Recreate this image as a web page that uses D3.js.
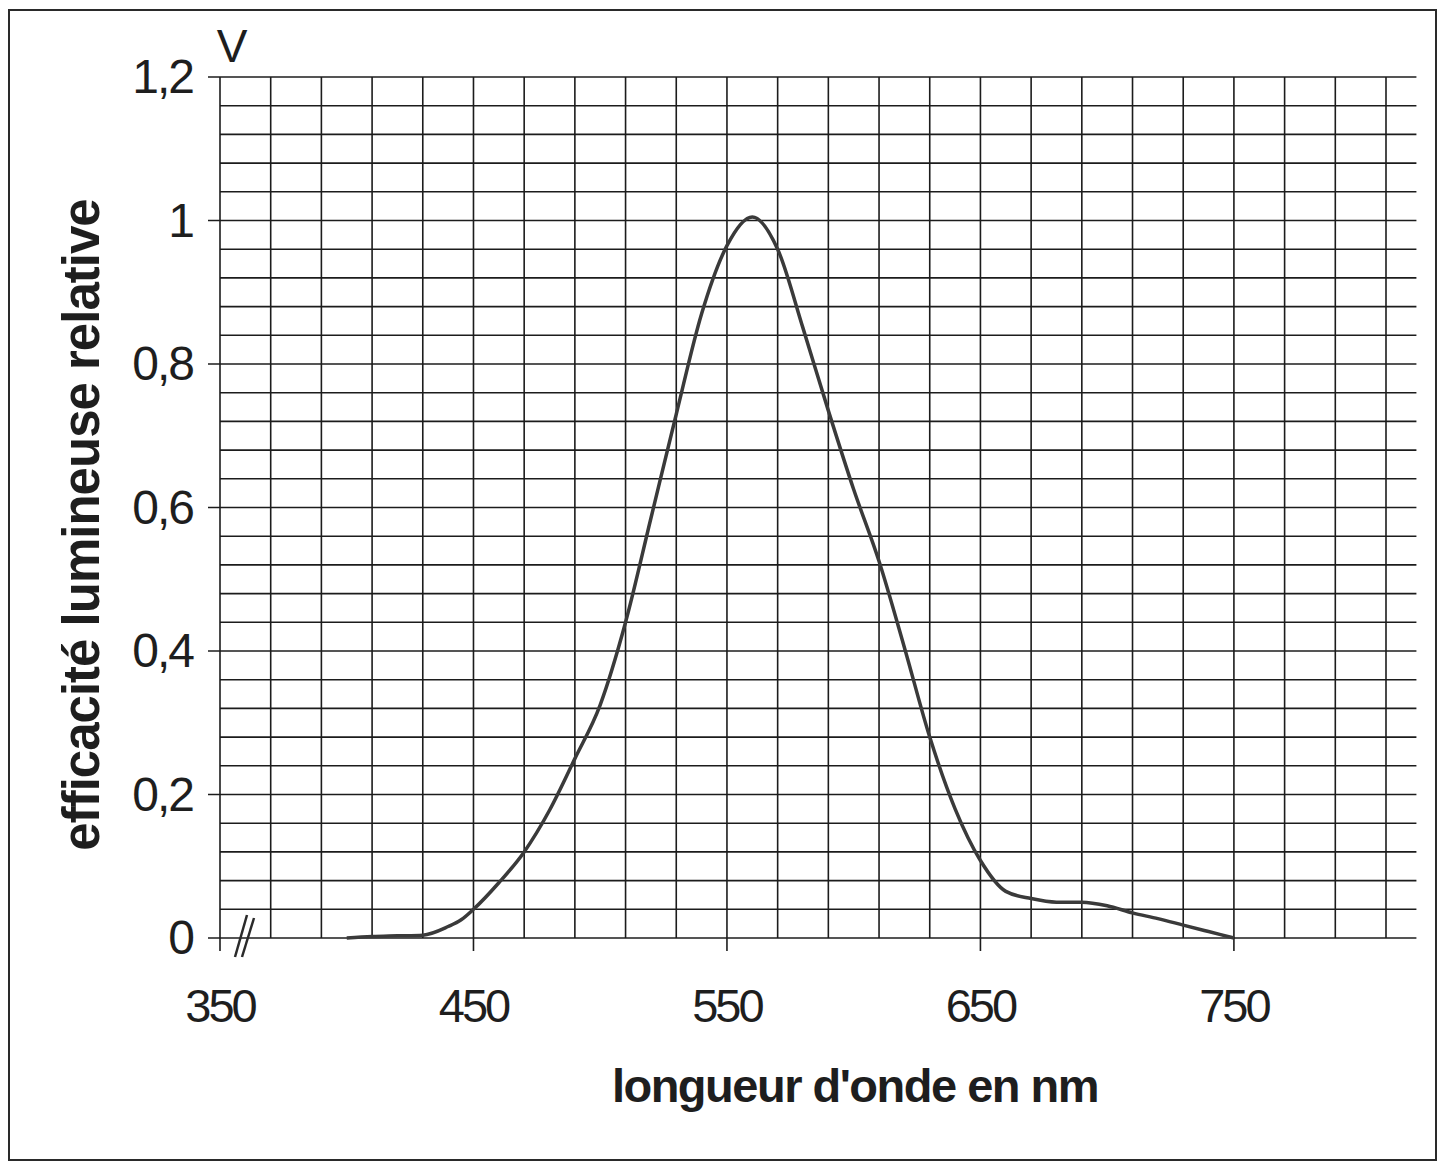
<!DOCTYPE html>
<html>
<head>
<meta charset="utf-8">
<script src="https://cdn.jsdelivr.net/npm/d3@7/dist/d3.min.js"></script>
<style>
body {margin:0; background:#fff;}
svg text {font-family: "Liberation Sans", Arial, sans-serif; fill:#1e1e1e;}
</style>
</head>
<body>
<svg></svg>
<script>

var screen = {width: 1450, height: 1163}

var longueurs = [400,410,420,430,440,445,450,460,470,480,490,500,510,520,530,540,550,560,570,580,590,600,610,620,630,640,650,660,670,680,690,700,710,720,730,740,750]
var efficacite = [0,0.002,0.003,0.004,0.016,0.025,0.04,0.077,0.12,0.178,0.25,0.325,0.44,0.585,0.73,0.87,0.965,1.005,0.96,0.85,0.735,0.625,0.525,0.405,0.28,0.18,0.108,0.065,0.055,0.05,0.05,0.045,0.035,0.027,0.018,0.009,0]

var xTicks = [350,450,550,650,750]
var yTicks = [0,0.2,0.4,0.6,0.8,1,1.2]
var yTickLabels = ["0","0,2","0,4","0,6","0,8","1","1,2"]

var setup = function ()
{
    var svg = d3.select("svg")
        .attr("width", screen.width)
        .attr("height", screen.height)

    var xScale = d3.scaleLinear()
        .domain([350, 810])
        .range([220, 1386])
    var yScale = d3.scaleLinear()
        .domain([0, 1.2])
        .range([938, 77])

    // cadre de la feuille
    svg.append("rect")
        .attr("x", 9).attr("y", 10)
        .attr("width", 1427).attr("height", 1150)
        .attr("fill", "none")
        .attr("stroke", "#2a2a2a")
        .attr("stroke-width", 2)

    var grid = svg.append("g").attr("id", "grid")
        .attr("stroke", "#1c1c1c")
        .attr("stroke-width", 1.6)

    // lignes horizontales tous les 0,04
    var hLines = d3.range(0, 31).map(function(i){return i*0.04})
    grid.selectAll(".h")
        .data(hLines)
        .enter()
        .append("line")
        .attr("x1", function(d, i){return (i % 5 == 0) ? xScale(350) - 12 : xScale(350)})
        .attr("x2", xScale(822))
        .attr("y1", function(d){return yScale(d)})
        .attr("y2", function(d){return yScale(d)})

    // lignes verticales tous les 20 nm
    var vLines = d3.range(350, 811, 20)
    grid.selectAll(".v")
        .data(vLines)
        .enter()
        .append("line")
        .attr("x1", function(d){return xScale(d)})
        .attr("x2", function(d){return xScale(d)})
        .attr("y1", yScale(1.2))
        .attr("y2", yScale(0))

    // petits traits sous l'axe pour les graduations
    grid.selectAll(".xt")
        .data(xTicks)
        .enter()
        .append("line")
        .attr("x1", function(d){return xScale(d)})
        .attr("x2", function(d){return xScale(d)})
        .attr("y1", yScale(0))
        .attr("y2", yScale(0) + 13)

    // cassure de l'axe //
    var brk = svg.append("g").attr("stroke", "#2a2a2a").attr("stroke-width", 2.5)
    brk.append("line").attr("x1", 235).attr("y1", 957).attr("x2", 247).attr("y2", 915)
    brk.append("line").attr("x1", 242).attr("y1", 957).attr("x2", 254).attr("y2", 918)

    // labels
    svg.append("g")
        .selectAll("text")
        .data(xTicks)
        .enter()
        .append("text")
        .attr("x", function(d){return xScale(d)})
        .attr("y", 1022)
        .attr("text-anchor", "middle")
        .style("font-size", "47px")
        .style("letter-spacing", "-3px")
        .text(function(d){return d})

    svg.append("g")
        .selectAll("text")
        .data(yTicks)
        .enter()
        .append("text")
        .attr("x", 193)
        .attr("y", function(d){return yScale(d) + 16})
        .attr("text-anchor", "end")
        .style("font-size", "48px")
        .style("letter-spacing", "-2px")
        .text(function(d, i){return yTickLabels[i]})

    svg.append("text")
        .attr("x", 232)
        .attr("y", 62)
        .attr("text-anchor", "middle")
        .style("font-size", "46px")
        .style("font-weight", "300")
        .text("V")

    svg.append("text")
        .attr("transform", "translate(99,525) rotate(-90)")
        .attr("text-anchor", "middle")
        .style("font-size", "51px")
        .style("font-weight", "bold")
        .style("letter-spacing", "-1px")
        .text("efficacité lumineuse relative")

    svg.append("text")
        .attr("x", 855)
        .attr("y", 1102)
        .attr("text-anchor", "middle")
        .style("font-size", "47px")
        .style("font-weight", "bold")
        .style("letter-spacing", "-1.5px")
        .text("longueur d'onde en nm")

    drawline(xScale, yScale)
}

var drawline = function(xScale, yScale)
{
    var pts = longueurs.map(function(l, i){return {nm: l, v: efficacite[i]}})

    var lineGenerator = d3.line()
        .x(function(d){return xScale(d.nm)})
        .y(function(d){return yScale(d.v)})
        .curve(d3.curveMonotoneX)

    d3.select("svg").append("path")
        .datum(pts)
        .attr("fill", "none")
        .attr("stroke", "#3a3a3a")
        .attr("stroke-width", 3.5)
        .attr("d", lineGenerator)
}

setup()

</script>
</body>
</html>
